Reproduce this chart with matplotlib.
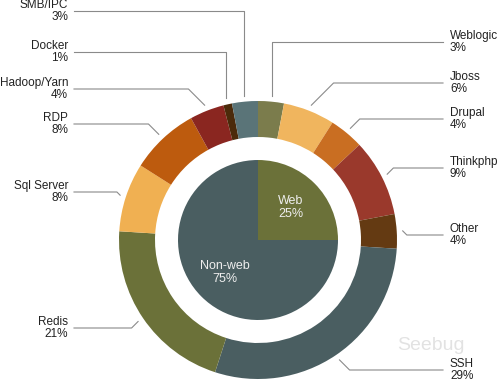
import numpy as np
import matplotlib
matplotlib.use('Agg')
import matplotlib.pyplot as plt

plt.rcParams['font.family'] = ['Liberation Sans', 'DejaVu Sans']

# inner pie
inner_labels = ['Web', 'Non-web']
inner_values = [25, 75]
inner_colors = ['#6b7139', '#4a5e61']

# outer ring (clockwise from top)
outer_labels = ['Weblogic', 'Jboss', 'Drupal', 'Thinkphp', 'Other', 'SSH',
                'Redis', 'Sql Server', 'RDP', 'Hadoop/Yarn', 'Docker', 'SMB/IPC']
outer_values = [3, 6, 4, 9, 4, 29, 21, 8, 8, 4, 1, 3]
outer_colors = ['#7b7c4c', '#f0b55e', '#c96e22', '#9a392c', '#643a12', '#4a5e61',
                '#6b7139', '#f0b052', '#bd5b0e', '#8a2620', '#4b2a0a', '#5a7478']

# layout: y (pixels from top) where each leader line meets its label
label_y = [42, 83, 119, 168, 235, 370, 328, 192, 124, 89, 52, 11]

W, H = 498, 383
cx, cy = 258, H - 240
r_out, ring_w, r_in = 139, 36, 80

fig = plt.figure(figsize=(W / 100, H / 100), dpi=100)
ax = fig.add_axes([0, 0, 1, 1])

ax.pie(inner_values, radius=r_in, center=(cx, cy), colors=inner_colors,
       startangle=90, counterclock=False, wedgeprops=dict(linewidth=0))
for i, (lab, v) in enumerate(zip(inner_labels, inner_values)):
    start = 90 - sum(inner_values[:i]) * 3.6
    mid = np.deg2rad(start - v * 1.8)
    ax.text(cx + 0.58 * r_in * np.cos(mid), cy + 0.58 * r_in * np.sin(mid),
            f'{lab}\n{v}%', ha='center', va='center', color='#eeeeee',
            fontsize=9, linespacing=1.1)

ax.pie(outer_values, radius=r_out, center=(cx, cy), colors=outer_colors,
       startangle=90, counterclock=False,
       wedgeprops=dict(width=ring_w, linewidth=0))

cum = np.cumsum([0] + outer_values)
for i, (lab, v) in enumerate(zip(outer_labels, outer_values)):
    mid = np.deg2rad(90 - (cum[i] + v / 2) * 3.6)
    ax_ = cx + (r_out + 6) * np.cos(mid)
    ay_ = cy + (r_out + 6) * np.sin(mid)
    ly = H - label_y[i]
    side = 1 if np.cos(mid) > 0 else -1
    dy = ly - ay_
    if abs(dy) > 30:
        ex = ax_
    else:
        ex = ax_ + side * abs(dy)
    lx = 443 if side > 0 else 74
    ax.plot([ax_, ex, lx], [ay_, ly, ly], color='#8a8a8a', lw=0.8)
    tx = 450 if side > 0 else 68
    ax.text(tx, ly, f'{lab}\n{v}%', ha='left' if side > 0 else 'right',
            va='center', fontsize=8.5, color='#222222', linespacing=1.1)

# faint watermark
ax.text(397, H - 346, 'Seebug', fontsize=14, color='#d0d0d0', alpha=0.6,
        ha='left', va='center', zorder=0.5)

ax.set_xlim(0, W)
ax.set_ylim(0, H)
ax.set_aspect('equal')
ax.axis('off')

fig.savefig('out.png', dpi=100)
